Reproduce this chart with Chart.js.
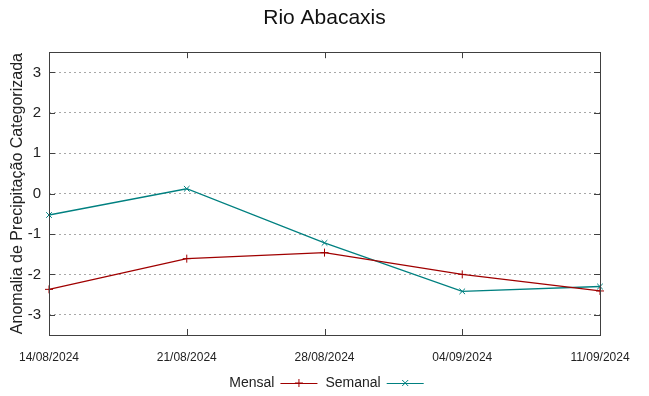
<!DOCTYPE html>
<html>
<head>
<meta charset="utf-8">
<script src="https://cdn.jsdelivr.net/npm/chart.js@4/dist/chart.umd.min.js"></script>
<style>
  html, body { margin: 0; padding: 0; background: #fff; }
  #wrap { width: 649px; height: 396px; }
</style>
</head>
<body>
<div id="wrap"><canvas id="chuvaChart" width="649" height="396"></canvas></div>
<script>
// Dados
const datas = ['14/08/2024', '21/08/2024', '28/08/2024', '04/09/2024', '11/09/2024'];
const mensal = [-2.37, -1.61, -1.46, -2.0, -2.41];
const semanal = [-0.53, 0.12, -1.22, -2.42, -2.30];
const yTicks = [-3, -2, -1, 0, 1, 2, 3];

const FONT = "'Liberation Sans', Arial, sans-serif";

// box, inward tick marks and legend (gnuplot style)
const gnuplotFrame = {
    id: 'gnuplotFrame',
    afterDraw(chart) {
        const ctx = chart.ctx;
        const area = chart.chartArea;
        const x = chart.scales.x;
        const y = chart.scales.y;
        const tick = 6;

        ctx.save();
        ctx.strokeStyle = '#404040';
        ctx.lineWidth = 1;
        ctx.beginPath();
        x.ticks.forEach((t, i) => {
            const px = Math.round(x.getPixelForTick(i)) + 0.5;
            ctx.moveTo(px, area.bottom);
            ctx.lineTo(px, area.bottom - tick);
            ctx.moveTo(px, area.top);
            ctx.lineTo(px, area.top + tick);
        });
        y.ticks.forEach(t => {
            const py = Math.round(y.getPixelForValue(t.value)) + 0.5;
            ctx.moveTo(area.left, py);
            ctx.lineTo(area.left + tick, py);
            ctx.moveTo(area.right, py);
            ctx.lineTo(area.right - tick, py);
        });
        ctx.stroke();
        ctx.strokeRect(Math.round(area.left) + 0.5, Math.round(area.top) + 0.5,
            Math.round(area.right - area.left), Math.round(area.bottom - area.top));

        // legend
        ctx.font = '14px ' + FONT;
        ctx.textBaseline = 'middle';
        ctx.textAlign = 'left';
        const lineLen = 37, gapText = 6, gapItem = 8;
        const sets = chart.data.datasets;
        let total = 0;
        sets.forEach((ds, i) => {
            total += ctx.measureText(ds.label).width + gapText + lineLen;
            if (i < sets.length - 1) total += gapItem;
        });
        let cx = (area.left + area.right) / 2 - total / 2 + 2;
        const ly = 383;
        sets.forEach(ds => {
            const w = ctx.measureText(ds.label).width;
            ctx.fillStyle = '#222';
            ctx.fillText(ds.label, cx, ly);
            const x0 = cx + w + gapText;
            ctx.strokeStyle = ds.borderColor;
            ctx.lineWidth = 1.2;
            ctx.beginPath();
            ctx.moveTo(x0, ly + 0.5);
            ctx.lineTo(x0 + lineLen, ly + 0.5);
            ctx.stroke();
            const mx = x0 + lineLen / 2, r = 4;
            ctx.lineWidth = 1;
            ctx.beginPath();
            if (ds.pointStyle === 'cross') {
                ctx.moveTo(mx - r, ly); ctx.lineTo(mx + r, ly);
                ctx.moveTo(mx, ly - r); ctx.lineTo(mx, ly + r);
            } else {
                ctx.moveTo(mx - r * 0.75, ly - r * 0.75); ctx.lineTo(mx + r * 0.75, ly + r * 0.75);
                ctx.moveTo(mx - r * 0.75, ly + r * 0.75); ctx.lineTo(mx + r * 0.75, ly - r * 0.75);
            }
            ctx.stroke();
            cx = x0 + lineLen + gapItem;
        });
        ctx.restore();
    }
};

const config = {
    type: 'line',
    data: {
        labels: datas,
        datasets: [{
            label: 'Mensal',
            data: mensal,
            borderColor: '#a00000',
            backgroundColor: '#a00000',
            borderWidth: 1.3,
            pointStyle: 'cross',
            pointRadius: 4,
            pointBorderWidth: 1,
            tension: 0
        }, {
            label: 'Semanal',
            data: semanal,
            borderColor: '#008080',
            backgroundColor: '#008080',
            borderWidth: 1.3,
            pointStyle: 'crossRot',
            pointRadius: 4,
            pointBorderWidth: 1,
            tension: 0
        }]
    },
    plugins: [gnuplotFrame],
    options: {
        responsive: false,
        animation: false,
        layout: {
            padding: { left: 0, right: 49, top: 0, bottom: 0 }
        },
        plugins: {
            legend: { display: false },
            tooltip: { enabled: false },
            title: {
                display: true,
                fullSize: false,
                text: 'Rio Abacaxis',
                color: '#111',
                font: { family: FONT, size: 21, weight: 'normal' },
                padding: { top: 6, bottom: 21 }
            }
        },
        scales: {
            x: {
                type: 'category',
                offset: false,
                grid: { display: false, drawTicks: false },
                border: { display: false },
                ticks: {
                    color: '#222',
                    font: { family: FONT, size: 12 },
                    padding: 15,
                    maxRotation: 0,
                    autoSkip: false
                },
                afterFit: function(scale) { scale.height = 61; }
            },
            y: {
                min: -3.5,
                max: 3.5,
                afterBuildTicks: function(scale) {
                    scale.ticks = yTicks.map(v => ({ value: v }));
                },
                grid: {
                    color: '#a8a8a8',
                    lineWidth: 1,
                    drawTicks: false
                },
                border: { display: false, dash: [2, 3] },
                ticks: {
                    color: '#222',
                    font: { family: FONT, size: 15 },
                    padding: 8
                },
                title: {
                    display: true,
                    text: 'Anomalia de Precipitação Categorizada',
                    color: '#222',
                    font: { family: FONT, size: 16 },
                    padding: { top: 8, bottom: 0 }
                },
                afterFit: function(scale) { scale.width = 49; }
            }
        }
    }
};

new Chart(document.getElementById('chuvaChart'), config);
</script>
</body>
</html>
